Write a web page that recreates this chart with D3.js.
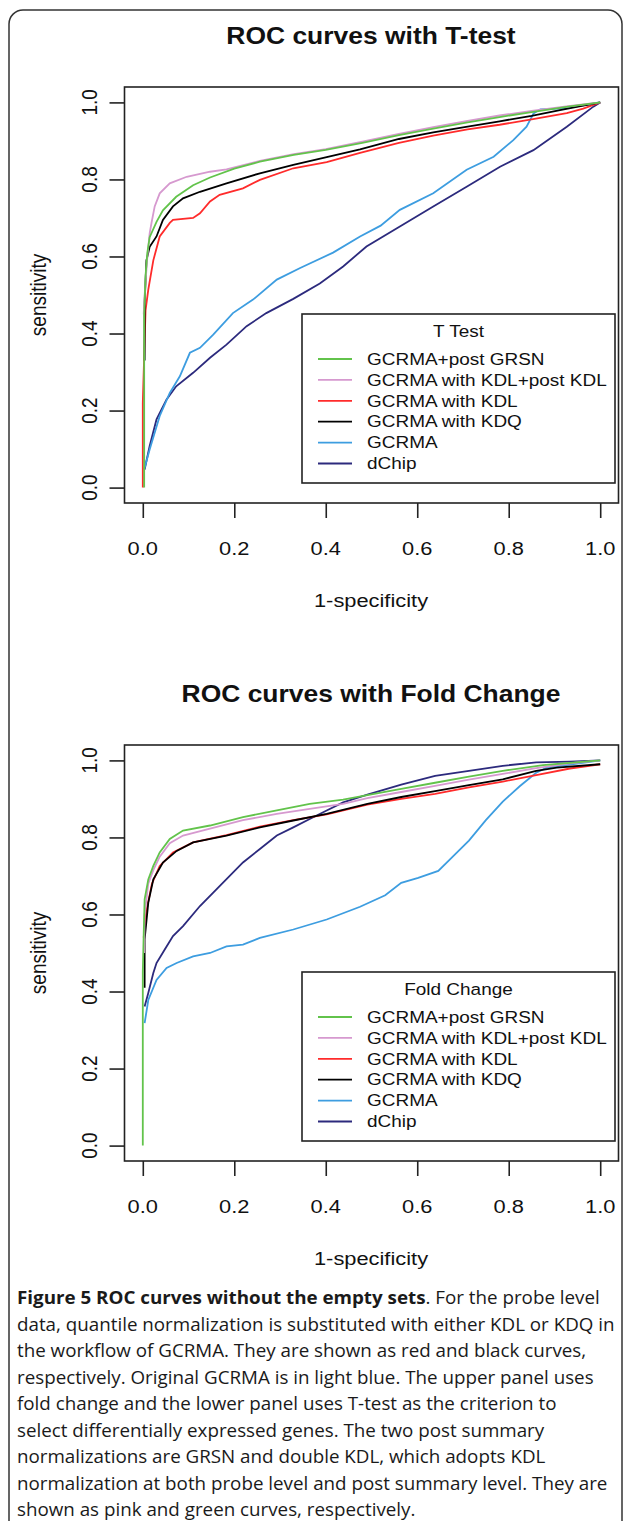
<!DOCTYPE html>
<html>
<head>
<meta charset="utf-8">
<script src="https://cdn.jsdelivr.net/npm/d3@7"></script>
<style>
  body { margin: 0; background: #fff; }
  svg text { font-family: "Liberation Sans", Arial, sans-serif; fill: #111; }
  svg text.cap { font-family: "Open Sans", "Noto Sans", sans-serif; fill: #1a1a1a; }
</style>
</head>
<body>
<svg id="fig" width="625" height="1521"></svg>
<script>
// legend / series
const seriesNames = ["GCRMA+post GRSN", "GCRMA with KDL+post KDL", "GCRMA with KDL", "GCRMA with KDQ", "GCRMA", "dChip"]
const seriesColors = ["#62c34b", "#d699cf", "#ff2b2b", "#000000", "#3d9de0", "#2c2a7d"]
const drawOrder = [5, 4, 2, 3, 1, 0]
const xTicks = [0, 0.2, 0.4, 0.6, 0.8, 1.0]
const yTicks = [0, 0.2, 0.4, 0.6, 0.8, 1.0]

// T-test panel, [1-specificity, sensitivity]
const tGrsn = [[0.003,0],[0.003,0.45],[0.006,0.55],[0.01,0.61],[0.015,0.65],[0.03,0.69],[0.044,0.72],[0.073,0.755],[0.11,0.785],[0.147,0.805],[0.2,0.828],[0.256,0.846],[0.33,0.864],[0.4,0.877],[0.48,0.895],[0.56,0.915],[0.635,0.932],[0.71,0.948],[0.78,0.962],[0.85,0.975],[0.93,0.989],[1,1]]
const tKdlKdl = [[0.002,0.45],[0.004,0.5],[0.01,0.6],[0.015,0.66],[0.019,0.687],[0.026,0.73],[0.037,0.764],[0.059,0.79],[0.096,0.807],[0.147,0.82],[0.183,0.826],[0.256,0.848],[0.33,0.866],[0.4,0.879],[0.48,0.898],[0.56,0.918],[0.635,0.936],[0.71,0.952],[0.78,0.966],[0.85,0.978],[0.93,0.99],[1,1]]
const tKdl = [[0,0],[0,0.22],[0.006,0.46],[0.012,0.514],[0.023,0.59],[0.037,0.652],[0.059,0.687],[0.066,0.695],[0.11,0.7],[0.125,0.712],[0.147,0.743],[0.168,0.76],[0.219,0.777],[0.256,0.799],[0.329,0.829],[0.402,0.845],[0.475,0.869],[0.56,0.895],[0.635,0.914],[0.71,0.93],[0.78,0.942],[0.85,0.956],[0.927,0.972],[0.963,0.984],[1,1]]
const tKdq = [[0.004,0.33],[0.004,0.48],[0.008,0.59],[0.015,0.625],[0.03,0.652],[0.044,0.695],[0.066,0.73],[0.088,0.751],[0.125,0.768],[0.183,0.79],[0.256,0.816],[0.329,0.838],[0.402,0.858],[0.475,0.878],[0.56,0.905],[0.635,0.922],[0.71,0.937],[0.78,0.951],[0.85,0.965],[0.912,0.98],[1,1]]
const tGcrma = [[0.003,0.047],[0.015,0.099],[0.037,0.186],[0.059,0.246],[0.081,0.289],[0.103,0.35],[0.125,0.363],[0.154,0.397],[0.197,0.453],[0.241,0.488],[0.293,0.54],[0.344,0.57],[0.416,0.61],[0.475,0.652],[0.52,0.68],[0.562,0.721],[0.635,0.764],[0.708,0.825],[0.767,0.859],[0.81,0.902],[0.839,0.937],[0.854,0.971],[0.869,0.982],[0.927,0.985],[1,1]]
const tDchip = [[0.004,0.047],[0.015,0.108],[0.03,0.177],[0.052,0.229],[0.073,0.263],[0.11,0.298],[0.147,0.337],[0.183,0.371],[0.227,0.419],[0.27,0.453],[0.329,0.49],[0.387,0.53],[0.438,0.574],[0.489,0.626],[0.562,0.678],[0.635,0.73],[0.708,0.781],[0.781,0.833],[0.854,0.876],[0.927,0.937],[0.985,0.989],[1,1]]

// Fold change panel
const fGrsn = [[0,0],[0,0.45],[0.002,0.55],[0.004,0.639],[0.012,0.691],[0.023,0.726],[0.037,0.761],[0.059,0.796],[0.088,0.818],[0.147,0.831],[0.219,0.853],[0.293,0.87],[0.365,0.887],[0.438,0.898],[0.491,0.91],[0.565,0.926],[0.639,0.942],[0.713,0.958],[0.787,0.973],[0.875,0.988],[1,1]]
const fKdlKdl = [[0.003,0.5],[0.004,0.6],[0.012,0.68],[0.023,0.715],[0.037,0.75],[0.059,0.785],[0.088,0.805],[0.147,0.823],[0.219,0.845],[0.293,0.861],[0.365,0.874],[0.438,0.887],[0.491,0.902],[0.565,0.918],[0.639,0.934],[0.713,0.95],[0.787,0.965],[0.86,0.98],[0.93,0.992],[1,1]]
const fKdl = [[0.002,0.54],[0.008,0.61],[0.02,0.68],[0.037,0.726],[0.066,0.761],[0.11,0.787],[0.183,0.806],[0.256,0.828],[0.329,0.845],[0.402,0.86],[0.491,0.885],[0.565,0.9],[0.639,0.913],[0.713,0.93],[0.787,0.945],[0.86,0.962],[0.934,0.979],[1,0.99]]
const fKdq = [[0.004,0.41],[0.004,0.535],[0.012,0.631],[0.023,0.691],[0.044,0.735],[0.074,0.765],[0.11,0.787],[0.183,0.805],[0.256,0.826],[0.329,0.844],[0.402,0.861],[0.491,0.887],[0.565,0.905],[0.639,0.92],[0.713,0.936],[0.787,0.951],[0.86,0.973],[0.905,0.981],[1,0.99]]
const fGcrma = [[0.004,0.318],[0.012,0.378],[0.03,0.43],[0.052,0.461],[0.074,0.474],[0.11,0.491],[0.147,0.5],[0.183,0.517],[0.219,0.522],[0.256,0.539],[0.329,0.561],[0.402,0.587],[0.475,0.62],[0.53,0.65],[0.565,0.682],[0.602,0.695],[0.646,0.713],[0.676,0.748],[0.713,0.792],[0.75,0.845],[0.787,0.893],[0.824,0.933],[0.86,0.968],[0.883,0.981],[0.934,0.989],[1,1]]
const fDchip = [[0.004,0.361],[0.012,0.396],[0.023,0.448],[0.03,0.474],[0.048,0.509],[0.066,0.544],[0.088,0.57],[0.125,0.622],[0.161,0.665],[0.219,0.735],[0.256,0.77],[0.293,0.805],[0.329,0.826],[0.365,0.848],[0.402,0.87],[0.438,0.891],[0.491,0.911],[0.565,0.937],[0.639,0.96],[0.713,0.973],[0.787,0.986],[0.86,0.995],[0.934,0.997],[1,1]]

const captionBold = "Figure 5 ROC curves without the empty sets"
const captionLines = [
  ". For the probe level",
  "data, quantile normalization is substituted with either KDL or KDQ in",
  "the workflow of GCRMA. They are shown as red and black curves,",
  "respectively. Original GCRMA is in light blue. The upper panel uses",
  "fold change and the lower panel uses T-test as the criterion to",
  "select differentially expressed genes. The two post summary",
  "normalizations are GRSN and double KDL, which adopts KDL",
  "normalization at both probe level and post summary level. They are",
  "shown as pink and green curves, respectively."
]

const svg = d3.select("#fig")
const SX = 1.15   // the figure is stretched sideways

function rText(g, x, y, str, size, opts) {
  opts = opts || {}
  const t = g.append("text")
    .attr("transform", "translate(" + x + "," + y + ") scale(" + SX + ",1)" + (opts.rotate ? " rotate(-90)" : ""))
    .attr("text-anchor", opts.anchor || "middle")
    .attr("dy", "0.35em")
    .attr("font-size", size)
    .text(str)
  if (opts.bold) t.attr("font-weight", "bold")
  return t
}

// outer figure frame
svg.append("rect")
  .attr("x", 9).attr("y", 10)
  .attr("width", 613).attr("height", 1560)
  .attr("rx", 14)
  .attr("fill", "none")
  .attr("stroke", "#333")
  .attr("stroke-width", 1.5)

function drawPanel(dy, title, legendTitle, series) {
  const g = svg.append("g").attr("transform", "translate(0," + dy + ")")
  const x = d3.scaleLinear().domain([-0.04, 1.04]).range([124.5, 618.5])
  const y = d3.scaleLinear().domain([-0.04, 1.04]).range([503, 87])

  rText(g, 371, 36, title, 23, { bold: true })

  // curves
  const line = d3.line().x(d => x(d[0])).y(d => y(d[1]))
  drawOrder.forEach(i => {
    g.append("path")
      .datum(series[i])
      .attr("d", line)
      .attr("fill", "none")
      .attr("stroke", seriesColors[i])
      .attr("stroke-width", 1.8)
      .attr("stroke-linejoin", "miter")
  })

  // box
  g.append("rect")
    .attr("x", x(-0.04)).attr("y", y(1.04))
    .attr("width", x(1.04) - x(-0.04))
    .attr("height", y(-0.04) - y(1.04))
    .attr("fill", "none")
    .attr("stroke", "#222")
    .attr("stroke-width", 1.6)

  // axes (ticks only; the axis line is the box)
  const xAxis = g.append("g")
    .attr("transform", "translate(0," + y(-0.04) + ")")
    .call(d3.axisBottom(x).tickValues(xTicks).tickSize(15).tickFormat(""))
  const yAxis = g.append("g")
    .attr("transform", "translate(" + x(-0.04) + ",0)")
    .call(d3.axisLeft(y).tickValues(yTicks).tickSize(15).tickFormat(""))
  ;[xAxis, yAxis].forEach(a => {
    a.select(".domain").remove()
    a.selectAll(".tick line").attr("stroke", "#222").attr("stroke-width", 1.6)
  })
  xTicks.forEach(v => rText(g, x(v), 548, d3.format(".1f")(v), 19))
  yTicks.forEach(v => rText(g, 89, y(v), d3.format(".1f")(v), 19, { rotate: true }))

  rText(g, 371, 600, "1-specificity", 19)
  rText(g, 38, (y(-0.04) + y(1.04)) / 2, "sensitivity", 19, { rotate: true })

  // legend
  const lg = g.append("g")
  lg.append("rect")
    .attr("x", 302).attr("y", 314)
    .attr("width", 313).attr("height", 169)
    .attr("fill", "#fff")
    .attr("stroke", "#222")
    .attr("stroke-width", 1.6)
  rText(lg, 458.5, 331, legendTitle, 16.5)
  seriesNames.forEach((name, i) => {
    const ly = 359 + i * 20.9
    lg.append("line")
      .attr("x1", 318).attr("x2", 352)
      .attr("y1", ly).attr("y2", ly)
      .attr("stroke", seriesColors[i])
      .attr("stroke-width", 1.8)
    rText(lg, 367, ly, name, 16.5, { anchor: "start" })
  })
}

drawPanel(0, "ROC curves with T-test", "T Test", [tGrsn, tKdlKdl, tKdl, tKdq, tGcrma, tDchip])
drawPanel(658, "ROC curves with Fold Change", "Fold Change", [fGrsn, fKdlKdl, fKdl, fKdq, fGcrma, fDchip])

// caption
const cap = svg.append("g")
const capTexts = captionLines.map((s, i) => {
  const t = cap.append("text")
    .attr("class", "cap")
    .attr("x", 0).attr("y", 0)
    .attr("font-size", 17.5)
  if (i === 0) t.append("tspan").attr("font-weight", "bold").text(captionBold)
  t.append("tspan").text(s)
  return t
})
const capSx = 598 / capTexts[1].node().getComputedTextLength()
capTexts.forEach((t, i) => {
  t.attr("transform", "translate(17," + (1304 + i * 26.5) + ") scale(" + capSx + ",1)")
})
</script>
</body>
</html>
